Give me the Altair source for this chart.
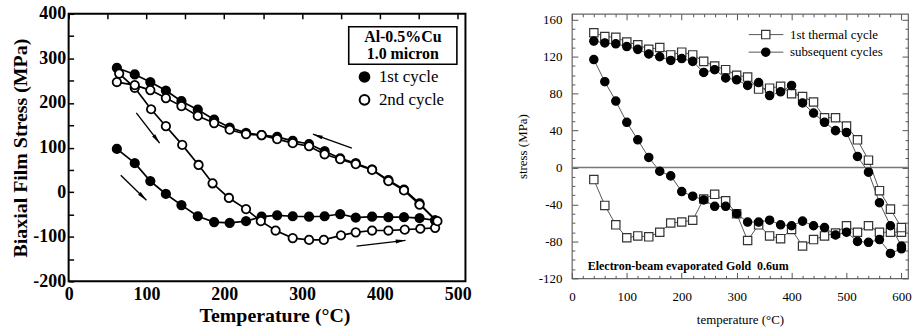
import math
import altair as alt
import pandas as pd

SERIF = "Liberation Serif"

# ---------------- Left panel: Al-0.5%Cu, 1.0 micron ----------------
c1_heat_T = [62, 85, 105, 125, 145, 166, 187, 207, 228, 248, 268, 288, 309, 329, 349, 369, 390, 411, 431, 451, 471]
c1_heat_S = [97, 65, 25, -4, -29, -54, -67, -69, -65, -55, -52, -54, -55, -54, -49, -57, -55, -56, -56, -58, -63]
c1_cool_T = [471, 451, 431, 411, 390, 369, 349, 329, 309, 288, 268, 248, 228, 207, 187, 166, 145, 125, 105, 85, 62]
c1_cool_S = [-63, -25, 6, 27, 51, 65, 76, 92, 108, 115, 124, 128, 133, 145, 163, 185, 204, 228, 247, 264, 279]
c2_heat_T = [65, 85, 106, 125, 146, 167, 185, 206, 228, 247, 266, 288, 309, 328, 350, 369, 390, 411, 432, 452, 471]
c2_heat_S = [266, 234, 186, 148, 106, 61, 20, -13, -38, -65, -86, -103, -107, -107, -97, -90, -86, -86, -84, -82, -80]
c2_cool_T = [474, 451, 431, 411, 390, 369, 349, 329, 309, 288, 268, 248, 228, 207, 187, 166, 145, 125, 105, 85, 62]
c2_cool_S = [-65, -28, 4, 25, 50, 63, 74, 85, 103, 110, 119, 128, 130, 140, 155, 171, 193, 211, 229, 240, 247]
left_series = ["1st cycle", "2nd cycle"]

# arrows: tail (T, S) -> head (T, S)
arrow_tail_T = [87, 67, 364, 370]
arrow_tail_S = [178, 38, 99, -121]
arrow_head_T = [117, 100, 314, 433]
arrow_head_S = [110, -18, 130, -108]

box_lines = ["Al-0.5%Cu", "1.0 micron"]
box_line_S = [349, 309]
box_T = [360, 499]
box_S = [371, 287]

# ---------------- Right panel: e-beam evaporated gold ----------------
steps_up = list(range(40, 601, 20))
steps_down = list(range(600, 39, -20))
first_heat_S = [-13, -41, -62, -76, -74, -75, -70, -60, -59, -57, -34, -29, -36, -50, -79,
                -62, -74, -77, -67, -85, -78, -74, -71, -63, -70, -63, -70, -70, -70]
first_cool_S = [-65, -45, -25, 8, 30, 45, 54, 54, 71, 77, 80, 88, 86, 85, 98,
                100, 106, 110, 115, 122, 125, 122, 130, 128, 133, 136, 141, 142, 146]
subs_heat_S = [117, 93, 72, 49, 30, 11, -4, -9, -26, -31, -35, -42, -42, -50, -59,
               -59, -57, -62, -63, -58, -63, -65, -73, -70, -80, -81, -78, -93, -88]
subs_cool_S = [-85, -63, -38, -5, 12, 38, 40, 49, 59, 70, 89, 82, 78, 92, 89,
               95, 97, 106, 103, 115, 118, 116, 120, 123, 128, 131, 134, 135, 137]
right_series = ["1st thermal cycle", "subsequent cycles"]
right_legend_S = [144, 125]
right_legend_line_T = [322, 385]
right_legend_marker_T = 353
right_legend_text_T = 397
note_text = "Electron-beam evaporated Gold\u00a0 0.6um"
note_T, note_S = 29, -107

# ---------------- geometry ----------------
LX, LY, LW, LH = [0, 510], [-200, 400], 399, 269
RX, RY, RW, RH = [0, 612], [-120, 166.5], 338, 266


def seg(T, S, series, start):
    return [dict(T=t, S=s, series=series, seq=start + i) for i, (t, s) in enumerate(zip(T, S))]


left_df = pd.DataFrame(
    seg(c1_heat_T, c1_heat_S, left_series[0], 0) + seg(c1_cool_T, c1_cool_S, left_series[0], 100)
    + seg(c2_heat_T, c2_heat_S, left_series[1], 0) + seg(c2_cool_T, c2_cool_S, left_series[1], 100)
)

kx = LW / (LX[1] - LX[0])
ky = LH / (LY[1] - LY[0])
arrow_df = pd.DataFrame({
    "tT": arrow_tail_T, "tS": arrow_tail_S, "hT": arrow_head_T, "hS": arrow_head_S,
})
arrow_df["angle"] = [
    (math.degrees(math.atan2((h - t) * kx, (hs - ts) * ky)) + 360) % 360
    for t, ts, h, hs in zip(arrow_tail_T, arrow_tail_S, arrow_head_T, arrow_head_S)
]

lx_axis = alt.Axis(
    values=list(range(0, 501, 50)),
    labelExpr="datum.value % 100 === 0 ? '' + datum.value : ''",
    ticks=False, domain=False, grid=True, gridColor="black", gridWidth=1.5,
    gridDash=[5, 3000], gridOpacity=1,
    labelFont=SERIF, labelFontSize=18, labelFontWeight="bold", labelColor="black",
    labelPadding=4, labelOverlap=False, labelFlush=False, labelBound=False,
    titleFont=SERIF, titleFontSize=20, titleFontWeight="bold", titleColor="black", titlePadding=2,
    titleX=207,
)
ly_axis = alt.Axis(
    values=list(range(-200, 401, 50)),
    labelExpr="datum.value % 100 === 0 ? '' + datum.value : ''",
    ticks=False, domain=False, grid=True, gridColor="black", gridWidth=1.5,
    gridDash=[5, 3000], gridOpacity=1,
    labelFont=SERIF, labelFontSize=18, labelFontWeight="bold", labelColor="black",
    labelPadding=3, labelOverlap=False, labelFlush=False, labelBound=False,
    titleFont=SERIF, titleFontSize=20, titleFontWeight="bold", titleColor="black", titlePadding=2,
)


def lsx(field):
    return alt.X(field, scale=alt.Scale(domain=LX, nice=False, zero=False), axis=lx_axis, title="Temperature (°C)")


def lsy(field):
    return alt.Y(field, scale=alt.Scale(domain=LY, nice=False, zero=False), axis=ly_axis, title="Biaxial Film Stress (MPa)")


left_base = alt.Chart(left_df)
left_lines = left_base.mark_line(color="black", strokeWidth=1.7).encode(
    x=lsx("T:Q"), y=lsy("S:Q"), detail="series:N", order="seq:Q"
)
left_points = left_base.mark_point(filled=True, stroke="black", strokeWidth=1.8, size=72, opacity=1).encode(
    x=lsx("T:Q"), y=lsy("S:Q"),
    fill=alt.Fill("series:N", scale=alt.Scale(domain=left_series, range=["black", "white"]),
                  legend=alt.Legend(orient="none", legendX=289, legendY=55, title=None,
                                    labelFont=SERIF, labelFontSize=17, labelColor="black",
                                    symbolType="circle", symbolSize=95, symbolStrokeColor="black",
                                    symbolStrokeWidth=2, labelOffset=6, rowPadding=4, padding=0)),
)
arrow_lines = alt.Chart(arrow_df).mark_rule(color="black", strokeWidth=1.4).encode(
    x=lsx("tT:Q"), y=lsy("tS:Q"), x2="hT:Q", y2="hS:Q"
)
arrow_heads = alt.Chart(arrow_df).mark_point(
    filled=True, color="black", opacity=1, size=121, shape="M0,0L0.35,1.8L-0.35,1.8Z"
).encode(
    x=lsx("hT:Q"), y=lsy("hS:Q"),
    angle=alt.Angle("angle:Q", scale=None),
)
box_df = pd.DataFrame({"T0": [box_T[0]], "T1": [box_T[1]], "S0": [box_S[0]], "S1": [box_S[1]]})
box = alt.Chart(box_df).mark_rect(fill="white", stroke="black", strokeWidth=1.6).encode(
    x=lsx("T0:Q"), x2="T1:Q", y=lsy("S0:Q"), y2="S1:Q",
)
box_text_df = pd.DataFrame({"txt": box_lines, "S": box_line_S, "T": [(box_T[0] + box_T[1]) / 2] * 2})
box_text = alt.Chart(box_text_df).mark_text(
    font=SERIF, fontSize=16, fontWeight="bold", color="black", align="center", baseline="middle"
).encode(x=lsx("T:Q"), y=lsy("S:Q"), text="txt:N")

left = alt.layer(left_lines, arrow_lines, arrow_heads, left_points, box, box_text).properties(
    width=LW, height=LH, view=alt.ViewBackground(stroke="black", strokeWidth=2)
)

# ---------------- right chart ----------------
right_df = pd.DataFrame(
    seg(steps_up, first_heat_S, right_series[0], 0) + seg(steps_down, first_cool_S, right_series[0], 100)
    + seg(steps_up, subs_heat_S, right_series[1], 0) + seg(steps_down, subs_cool_S, right_series[1], 100)
)

rx_axis = alt.Axis(
    values=list(range(0, 601, 20)),
    labelExpr="datum.value % 100 === 0 ? '' + datum.value : ''",
    ticks=False, domain=False, grid=True, gridColor="#555", gridWidth=1, gridOpacity=1,
    gridDash={"condition": {"test": "datum.value % 100 === 0", "value": [6, RH - 12, 6, 3000]},
              "value": [3, RH - 6, 3, 3000]},
    labelFont=SERIF, labelFontSize=13, labelColor="black",
    labelPadding=12, labelOverlap=False, labelFlush=False, labelBound=False,
    titleFont=SERIF, titleFontSize=13, titleFontWeight="normal", titleColor="black", titlePadding=10,
)
ry_axis = alt.Axis(
    values=list(range(-120, 161, 10)),
    labelExpr="datum.value % 40 === 0 ? '' + datum.value : ''",
    ticks=False, domain=False, grid=True, gridColor="#555", gridWidth=1, gridOpacity=1,
    gridDash={"condition": {"test": "datum.value % 40 === 0", "value": [6, RW - 12, 6, 3000]},
              "value": [3, RW - 6, 3, 3000]},
    labelFont=SERIF, labelFontSize=13, labelColor="black",
    labelPadding=10, labelOverlap=False, labelFlush=False, labelBound=False,
    titleFont=SERIF, titleFontSize=13, titleFontWeight="normal", titleColor="black", titlePadding=9,
)


def rsx(field):
    return alt.X(field, scale=alt.Scale(domain=RX, nice=False, zero=False), axis=rx_axis, title="temperature (°C)")


def rsy(field):
    return alt.Y(field, scale=alt.Scale(domain=RY, nice=False, zero=False), axis=ry_axis, title="stress (MPa)")


shape_enc = alt.Shape("series:N", scale=alt.Scale(domain=right_series, range=["square", "circle"]), legend=None)
fill_enc = alt.Fill("series:N", scale=alt.Scale(domain=right_series, range=["white", "black"]), legend=None)
stroke_enc = alt.Stroke("series:N", scale=alt.Scale(domain=right_series, range=["#333", "black"]), legend=None)

zero_df = pd.DataFrame({"S": [0]})
zero_line = alt.Chart(zero_df).mark_rule(color="#777", strokeWidth=1.5).encode(y=rsy("S:Q"))

right_base = alt.Chart(right_df)
right_lines = right_base.mark_line(color="#555", strokeWidth=1).encode(
    x=rsx("T:Q"), y=rsy("S:Q"), detail="series:N", order="seq:Q"
)
right_points = right_base.mark_point(filled=True, strokeWidth=1.2, size=70, opacity=1).encode(
    x=rsx("T:Q"), y=rsy("S:Q"), shape=shape_enc, fill=fill_enc, stroke=stroke_enc
)

leg_df = pd.DataFrame({
    "series": right_series, "S": right_legend_S,
    "T0": [right_legend_line_T[0]] * 2, "T1": [right_legend_line_T[1]] * 2,
    "T": [right_legend_marker_T] * 2, "Tt": [right_legend_text_T] * 2,
})
leg_lines = alt.Chart(leg_df).mark_rule(color="#555", strokeWidth=1).encode(
    x=rsx("T0:Q"), x2="T1:Q", y=rsy("S:Q"),
)
leg_points = alt.Chart(leg_df).mark_point(filled=True, strokeWidth=1.2, size=70, opacity=1).encode(
    x=rsx("T:Q"), y=rsy("S:Q"), shape=shape_enc, fill=fill_enc, stroke=stroke_enc
)
leg_text = alt.Chart(leg_df).mark_text(
    font=SERIF, fontSize=13, color="black", align="left", baseline="middle"
).encode(x=rsx("Tt:Q"), y=rsy("S:Q"), text="series:N")
note_df = pd.DataFrame({"T": [note_T], "S": [note_S], "txt": [note_text]})
note = alt.Chart(note_df).mark_text(
    font=SERIF, fontSize=12, fontWeight="bold", color="black", align="left", baseline="middle"
).encode(x=rsx("T:Q"), y=rsy("S:Q"), text="txt:N")

right = alt.layer(zero_line, right_lines, right_points, leg_lines, leg_points, leg_text, note).properties(
    width=RW, height=RH, view=alt.ViewBackground(stroke="#666", strokeWidth=1.2)
)

chart = alt.hconcat(left, right, spacing=43).properties(
    padding={"left": 10, "top": 3, "right": 0, "bottom": 0},
    background="white",
).resolve_scale(fill="independent", shape="independent", stroke="independent")

chart.save("out.html", embed_options={"renderer": "svg", "actions": False})
